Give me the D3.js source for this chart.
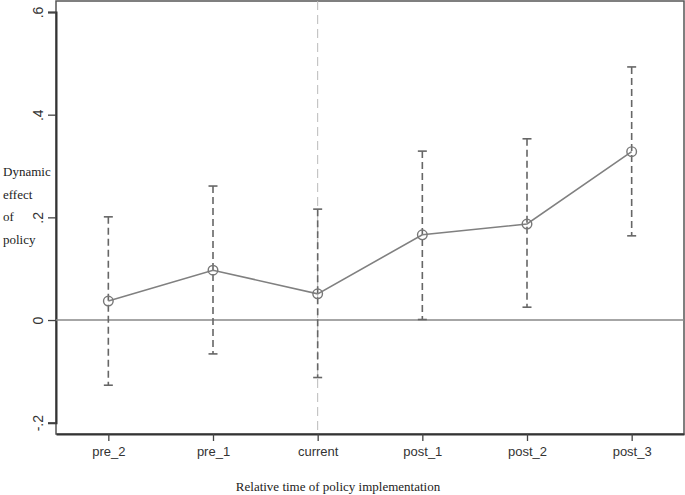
<!DOCTYPE html>
<html><head><meta charset="utf-8">
<script src="https://cdn.jsdelivr.net/npm/d3@7"></script>
<style>body{margin:0;background:#fff}svg{display:block}</style>
</head><body>
<script>
const categories = ["pre_2","pre_1","current","post_1","post_2","post_3"];
const estimates = [0.037, 0.097, 0.051, 0.166, 0.187, 0.328];
const upper = [0.201, 0.261, 0.216, 0.329, 0.353, 0.493];
const lower = [-0.127, -0.066, -0.112, 0.001, 0.025, 0.164];
const yTicks = [-0.2, 0, 0.2, 0.4, 0.6];
const yTickLabels = ["-.2", "0", ".2", ".4", ".6"];
const yTitle = ["Dynamic", "effect", "of", "policy"];
const xTitle = "Relative time of policy implementation";
const eventCategory = "current";

const W = 685, H = 495;
const svg = d3.select("body").append("svg").attr("width", W).attr("height", H);
const L = 56, R = 684, T = 1, B = 434;
const x = d3.scalePoint().domain(categories).range([L, R]).padding(0.5);
const y = d3.scaleLinear().domain([-0.2, 0.6]).range([422.7, 12]);

// frame
svg.append("rect").attr("x", L).attr("y", T).attr("width", R - L).attr("height", B - T)
  .attr("fill", "none").attr("stroke", "#555").attr("stroke-width", 1.5);

// y axis
const yAxis = d3.axisLeft(y).tickValues(yTicks).tickSize(8).tickFormat((d, i) => yTickLabels[i]);
const ya = svg.append("g").attr("transform", `translate(${L},0)`).call(yAxis);
ya.select(".domain").attr("stroke", "#333").attr("stroke-width", 2);
ya.selectAll(".tick line").attr("stroke", "#444").attr("stroke-width", 1.3);
ya.selectAll(".tick text").attr("font-family", "Liberation Sans, Arial, sans-serif").attr("font-size", 14)
  .attr("fill", "#333").attr("text-anchor", "middle").attr("x", 0).attr("dy", 0)
  .attr("transform", "translate(-13,0) rotate(-90)").attr("dominant-baseline", "auto");

// x axis
const xAxis = d3.axisBottom(x).tickSize(7).tickSizeOuter(0);
const xa = svg.append("g").attr("transform", `translate(0,${B})`).call(xAxis);
xa.select(".domain").attr("stroke", "#333").attr("stroke-width", 2);
xa.selectAll(".tick line").attr("stroke", "#444").attr("stroke-width", 1.3);
xa.selectAll(".tick text").attr("font-family", "Liberation Sans, Arial, sans-serif").attr("font-size", 13)
  .attr("fill", "#333").attr("y", 13);

// zero line
svg.append("line").attr("x1", L).attr("x2", R).attr("y1", y(0)).attr("y2", y(0))
  .attr("stroke", "#888").attr("stroke-width", 1.6);

// event line
svg.append("line").attr("x1", x(eventCategory)).attr("x2", x(eventCategory)).attr("y1", T).attr("y2", B)
  .attr("stroke", "#bbb").attr("stroke-width", 1).attr("stroke-dasharray", "9,5");

const data = categories.map((c, i) => ({c, v: estimates[i], lo: lower[i], hi: upper[i]}));

// error bars
const eb = svg.append("g");
eb.selectAll("line.bar").data(data).join("line").attr("class", "bar")
  .attr("x1", d => x(d.c)).attr("x2", d => x(d.c)).attr("y1", d => y(d.hi)).attr("y2", d => y(d.lo))
  .attr("stroke", "#666").attr("stroke-width", 1.6).attr("stroke-dasharray", "7,4");
["hi", "lo"].forEach(k => {
  eb.selectAll("line.cap" + k).data(data).join("line").attr("class", "cap" + k)
    .attr("x1", d => x(d.c) - 4.5).attr("x2", d => x(d.c) + 4.5)
    .attr("y1", d => y(d[k])).attr("y2", d => y(d[k]))
    .attr("stroke", "#666").attr("stroke-width", 1.6);
});

// connecting line
svg.append("path").datum(data)
  .attr("d", d3.line().x(d => x(d.c)).y(d => y(d.v)))
  .attr("fill", "none").attr("stroke", "#808080").attr("stroke-width", 1.6);

// markers
svg.append("g").selectAll("circle").data(data).join("circle")
  .attr("cx", d => x(d.c)).attr("cy", d => y(d.v)).attr("r", 4.8)
  .attr("fill", "none").attr("stroke", "#777").attr("stroke-width", 1.4);

// y title
svg.append("g").selectAll("text").data(yTitle).join("text")
  .attr("x", 3).attr("y", (d, i) => 176 + i * 22.5)
  .attr("font-family", "Liberation Serif, Times New Roman, serif").attr("font-size", 13)
  .attr("fill", "#222").text(d => d);

// x title
svg.append("text").attr("x", 338).attr("y", 491).attr("text-anchor", "middle")
  .attr("font-family", "Liberation Serif, Times New Roman, serif").attr("font-size", 13)
  .attr("fill", "#222").text(xTitle);
</script>
</body></html>
